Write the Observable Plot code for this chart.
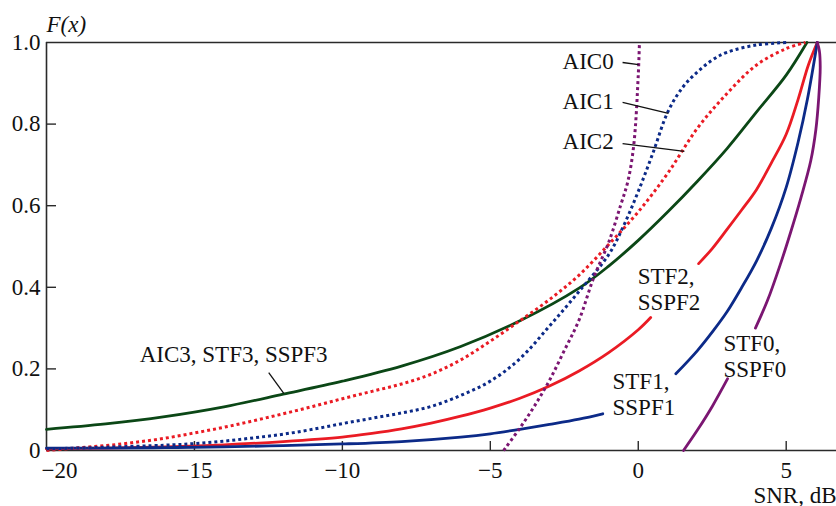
<!DOCTYPE html>
<html>
<head>
<meta charset="utf-8">
<script src="https://cdn.jsdelivr.net/npm/d3@7"></script>
<script src="https://cdn.jsdelivr.net/npm/@observablehq/plot@0.6"></script>
<style>
  html, body { margin: 0; padding: 0; background: #fff; }
</style>
</head>
<body>
<div id="chart"></div>
<script>
// ---- Data ----
const xTicks = [-20, -15, -10, -5, 0, 5];
const yTicks = [0, 0.2, 0.4, 0.6, 0.8, 1.0];

// AIC3, STF3, SSPF3 (solid green)
const snrAIC3 = [-20, -18, -16, -14, -12, -10, -8, -6, -4, -2, -1, 0, 1, 2, 3, 4, 5, 5.7];
const fAIC3   = [0.052, 0.065, 0.083, 0.107, 0.138, 0.170, 0.207, 0.255, 0.318, 0.398, 0.452, 0.515, 0.585, 0.66, 0.74, 0.83, 0.92, 1.0];

// AIC2 (dotted red)
const snrAIC2 = [-20, -19, -18, -17, -16, -15, -14, -13, -12, -11, -10, -9, -8, -7, -6, -5, -4, -3, -2, -1, 0, 1, 2, 3, 4, 5, 5.65];
const fAIC2   = [0.0, 0.006, 0.012, 0.02, 0.03, 0.043, 0.057, 0.073, 0.09, 0.108, 0.127, 0.145, 0.163, 0.187, 0.222, 0.268, 0.318, 0.37, 0.43, 0.505, 0.585, 0.68, 0.79, 0.875, 0.945, 0.985, 1.0];

// AIC1 (dotted navy)
const snrAIC1 = [-20, -18, -16, -15, -14, -13, -12, -11, -10, -9, -8, -7, -6, -5, -4, -3, -2, -1, -0.5, 0, 0.5, 1, 1.5, 2, 2.5, 3, 4, 5];
const fAIC1   = [0.004, 0.008, 0.013, 0.017, 0.023, 0.031, 0.04, 0.052, 0.066, 0.079, 0.092, 0.108, 0.135, 0.17, 0.225, 0.305, 0.39, 0.48, 0.55, 0.635, 0.73, 0.83, 0.89, 0.928, 0.957, 0.976, 0.994, 1.0];

// AIC0 (dotted purple)
const snrAIC0 = [-4.55, -4, -3.5, -3, -2.5, -2, -1.5, -1, -0.6, -0.35, -0.15, 0, 0.04];
const fAIC0   = [0, 0.055, 0.11, 0.172, 0.245, 0.32, 0.425, 0.51, 0.6, 0.66, 0.75, 0.92, 1.0];

// STF2, SSPF2 (solid red, split by its label)
const snrSTF2a = [-20, -18, -16, -14, -12, -10, -9, -8, -7, -6, -5, -4, -3, -2, -1, 0, 0.42];
const fSTF2a   = [0.004, 0.006, 0.009, 0.014, 0.022, 0.033, 0.042, 0.053, 0.067, 0.084, 0.104, 0.128, 0.158, 0.195, 0.24, 0.296, 0.326];
const snrSTF2b = [2.04, 2.5, 3, 3.5, 4, 4.5, 5, 5.4, 5.75, 6.05];
const fSTF2b   = [0.458, 0.495, 0.542, 0.59, 0.64, 0.705, 0.775, 0.86, 0.945, 1.0];

// STF1, SSPF1 (solid navy, split by its label)
const snrSTF1a = [-20, -18, -16, -14, -12, -10, -8, -6, -5, -4, -3, -2, -1.2];
const fSTF1a   = [0.006, 0.006, 0.007, 0.009, 0.012, 0.016, 0.022, 0.033, 0.041, 0.052, 0.064, 0.077, 0.09];
const snrSTF1b = [1.27, 2, 2.55, 3, 3.5, 4, 4.5, 5, 5.4, 5.72, 6.05];
const fSTF1b   = [0.188, 0.245, 0.295, 0.34, 0.4, 0.465, 0.545, 0.645, 0.755, 0.862, 1.0];

// STF0, SSPF0 (solid purple, split by its label)
const snrSTF0a = [1.53, 2, 2.5, 3.02];
const fSTF0a   = [0, 0.05, 0.108, 0.176];
const snrSTF0b = [3.96, 4.37, 4.81, 5.15, 5.5, 5.83, 6.0, 6.1, 6.15, 6.12, 6.05];
const fSTF0b   = [0.30, 0.368, 0.458, 0.535, 0.62, 0.71, 0.785, 0.865, 0.94, 0.98, 1.0];

// ---- Build tables ----
function rows(key, xs, ys) { return xs.map((x, i) => ({key, x, y: ys[i]})); }

const GREEN = "#0b4716", RED = "#ea1b24", NAVY = "#0c2a88", PURPLE = "#7b1672";
const AXIS = "#2a2a2a";

const solid = [
  ...rows("AIC3", snrAIC3, fAIC3).map(d => ({...d, c: GREEN})),
  ...rows("STF2a", snrSTF2a, fSTF2a).map(d => ({...d, c: RED})),
  ...rows("STF2b", snrSTF2b, fSTF2b).map(d => ({...d, c: RED})),
  ...rows("STF1a", snrSTF1a, fSTF1a).map(d => ({...d, c: NAVY})),
  ...rows("STF1b", snrSTF1b, fSTF1b).map(d => ({...d, c: NAVY})),
  ...rows("STF0a", snrSTF0a, fSTF0a).map(d => ({...d, c: PURPLE})),
  ...rows("STF0b", snrSTF0b, fSTF0b).map(d => ({...d, c: PURPLE}))
];
const dotted = [
  ...rows("AIC2", snrAIC2, fAIC2).map(d => ({...d, c: RED})),
  ...rows("AIC1", snrAIC1, fAIC1).map(d => ({...d, c: NAVY})),
  ...rows("AIC0", snrAIC0, fAIC0).map(d => ({...d, c: PURPLE}))
];

const labelsEnd = [
  {x: -0.83, y: 0.952, text: "AIC0"},
  {x: -0.83, y: 0.854, text: "AIC1"},
  {x: -0.83, y: 0.756, text: "AIC2"}
];
const labelsStart = [
  {x: -16.85, y: 0.235, text: "AIC3, STF3, SSPF3"},
  {x: -0.02, y: 0.426, text: "STF2,"},
  {x: -0.02, y: 0.362, text: "SSPF2"},
  {x: -0.87, y: 0.169, text: "STF1,"},
  {x: -0.87, y: 0.105, text: "SSPF1"},
  {x: 2.88, y: 0.261, text: "STF0,"},
  {x: 2.88, y: 0.199, text: "SSPF0"}
];
const leaders = [
  {x1: -0.53, y1: 0.951, x2: 0.01, y2: 0.946},
  {x1: -0.53, y1: 0.853, x2: 1.02, y2: 0.826},
  {x1: -0.53, y1: 0.752, x2: 1.56, y2: 0.733},
  {x1: -12.49, y1: 0.191, x2: -11.98, y2: 0.14}
];

const fmtY = d => d === 0 ? "0" : d.toFixed(1);

const chart = Plot.plot({
  width: 836,
  height: 506,
  marginLeft: 46,
  marginRight: 0,
  marginTop: 42,
  marginBottom: 56,
  x: {domain: [-20, 6.7]},
  y: {domain: [0, 1]},
  style: {fontFamily: "'Liberation Serif', 'Times New Roman', serif", fontSize: "23px", background: "#fff", color: "#111", overflow: "visible"},
  marks: [
    // frame
    Plot.ruleY([0, 1], {stroke: AXIS, strokeWidth: 1.6}),
    Plot.ruleX([-20], {stroke: AXIS, strokeWidth: 1.6}),
    // inward ticks
    Plot.tickX(xTicks.filter(d => d !== -20), {x: d => d, stroke: AXIS, strokeWidth: 1.4, insetTop: 399}),
    Plot.tickY(yTicks.filter(d => d !== 0 && d !== 1), {y: d => d, stroke: AXIS, strokeWidth: 1.4, insetRight: 780}),
    // tick labels
    Plot.axisX(xTicks.filter(d => d !== -20), {tickSize: 0, tickPadding: 11, label: null, fontSize: 23}),
    Plot.axisX([-20], {tickSize: 0, tickPadding: 11, label: null, fontSize: 23, dx: 13}),
    Plot.axisY(yTicks, {tickSize: 0, tickPadding: 6, tickFormat: fmtY, label: null, fontSize: 23}),
    // curves
    Plot.line(solid, {x: "x", y: "y", z: "key", stroke: "c", strokeWidth: 2.8, curve: "catmull-rom"}),
    Plot.line(dotted, {x: "x", y: "y", z: "key", stroke: "c", strokeWidth: 3, strokeDasharray: "3,3", strokeLinecap: "butt", curve: "catmull-rom"}),
    // leaders and labels
    Plot.link(leaders, {x1: "x1", y1: "y1", x2: "x2", y2: "y2", stroke: "#111", strokeWidth: 1.3}),
    Plot.text(labelsEnd, {x: "x", y: "y", text: "text", textAnchor: "end", lineAnchor: "middle", fontSize: 23}),
    Plot.text(labelsStart, {x: "x", y: "y", text: "text", textAnchor: "start", lineAnchor: "middle", fontSize: 23}),
    // axis titles
    Plot.text(["F(x)"], {frameAnchor: "top-left", dy: -11, textAnchor: "start", lineAnchor: "bottom", fontSize: 23, fontStyle: "italic"}),
    Plot.text(["SNR, dB"], {frameAnchor: "bottom-right", dy: 52, textAnchor: "end", lineAnchor: "bottom", fontSize: 23})
  ]
});
document.getElementById("chart").appendChild(chart);
</script>
</body>
</html>
